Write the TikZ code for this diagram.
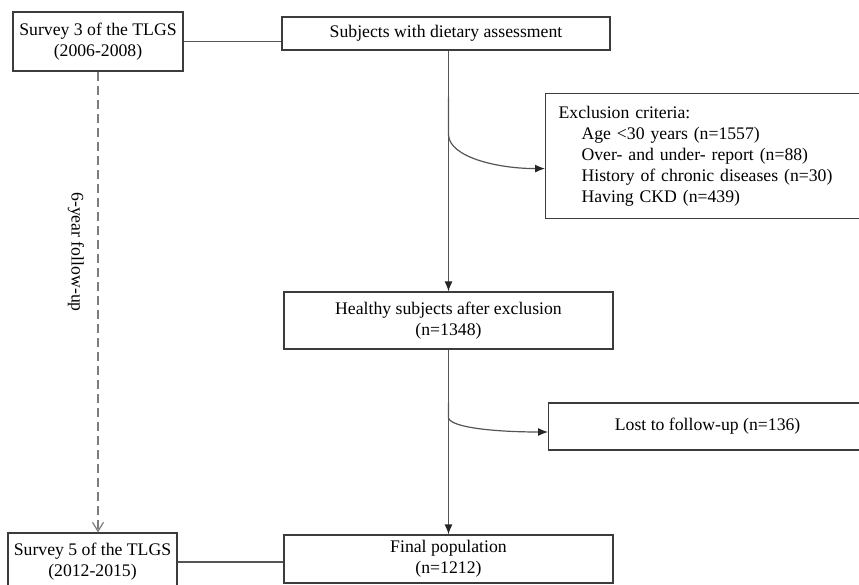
\documentclass[tikz,border=0pt]{standalone}
\usepackage{fontspec}
\setmainfont{Liberation Serif}
\usepackage{xcolor}
\definecolor{boxgray}{RGB}{60,60,60}
\definecolor{linegray}{RGB}{85,85,85}
\definecolor{dashgray}{RGB}{125,125,125}
\usetikzlibrary{arrows.meta,calc,positioning}

\begin{document}
\begin{tikzpicture}[x=1pt,y=-1pt,
    box/.style={draw=boxgray,line width=1.2pt,inner sep=0pt,align=center,
      font=\fontsize{17.7}{21}\selectfont},
    link/.style={draw=linegray,line width=1.2pt},
    arr/.style={link,-{Latex[length=10pt,width=8pt,color=black!85]}}]
            \useasboundingbox (0,0) rectangle (859,585);
            % boxes
            \node[box,minimum width=170pt,minimum height=59pt] (svyA) at (98,41.5) {Survey 3 of the TLGS\\(2006-2008)};
            \node[box,minimum width=328pt,minimum height=33pt] (subj) at (446,33.5) {Subjects with dietary assessment};
            \node[box,anchor=north west,text width=304pt,inner xsep=13pt,minimum height=125pt,align=left] (excl) at (545,93)
                {Exclusion criteria:\\
                 \hspace*{23pt}Age <30 years (n=1557)\\
                 \hspace*{23pt}Over- and under- report (n=88)\\
                 \hspace*{23pt}History of chronic diseases (n=30)\\
                 \hspace*{23pt}Having CKD (n=439)};
            \node[box,minimum width=329pt,minimum height=57pt] (hlth) at (448.5,320.5) {Healthy subjects after exclusion\\(n=1348)};
            \node[box,anchor=west,minimum width=318pt,minimum height=47pt] (lost) at (548,426.5) {Lost to follow-up (n=136)};
            \node[box,minimum width=329pt,minimum height=48pt] (final) at (448.5,559) {Final population\\(n=1212)};
            \node[box,minimum width=169pt,minimum height=58pt] (svyB) at (92.5,562) {Survey 5 of the TLGS\\(2012-2015)};
            % links
            \draw[link] (svyA.east) -- (svyA.east -| subj.west);
            \draw[link] (svyB.east) -- (svyB.east -| final.west);
            \draw[arr] (hlth.north |- subj.south) -- (hlth.north);
            \draw[arr] (hlth.south) -- (final.north);
            \coordinate (forkA) at (448.5,97);
            \coordinate (forkB) at (448.5,403);
            \draw[arr] (forkA) -- ++(0,38) .. controls +(1,22) and +(-48,0) .. ($(excl.west)+(0,12.5)$);
            \draw[arr] (forkB) -- ++(0,15) .. controls +(3,10) and +(-50,0) .. ($(lost.west)+(0,5.5)$);
            % follow-up
            \draw[dashgray,line width=1.2pt,dash pattern=on 9pt off 5pt,-{Straight Barb[length=9pt,width=11pt]}]
                (svyA.south) -- (svyA.south |- svyB.north);
            \node[rotate=-90,font=\fontsize{17.7}{21}\selectfont] (fup) at (76,252) {6-year follow-up};
        \end{tikzpicture}
\end{document}
